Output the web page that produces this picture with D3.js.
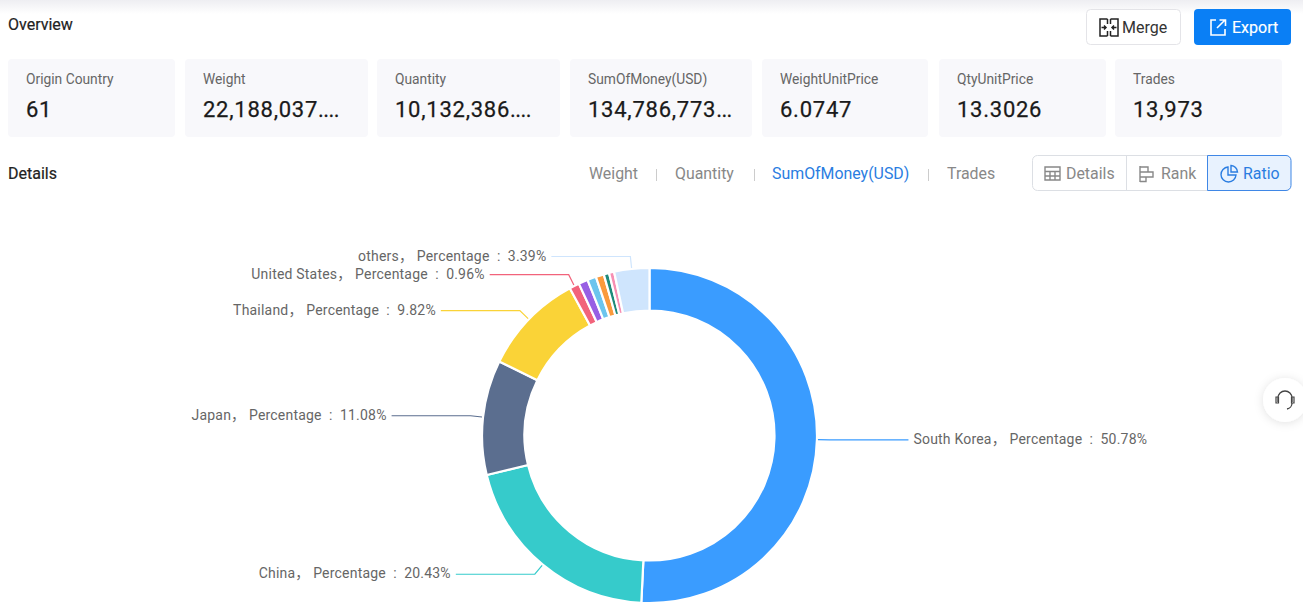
<!DOCTYPE html>
<html><head><meta charset="utf-8">
<script src="https://cdn.jsdelivr.net/npm/d3@7/dist/d3.min.js"></script>
<style>
html,body{margin:0;padding:0;background:#fff;overflow:hidden}
svg{display:block;font-family:Roboto,"Noto Sans CJK SC",sans-serif}
text{white-space:pre}
</style></head><body>
<svg id="c" width="1303" height="611"></svg>
<script>
const countries=["South Korea","China","Japan","Thailand","United States","c6","c7","c8","c9","c10","others"];
const shares=[50.78,20.43,11.08,9.82,0.96,0.9,0.85,0.78,0.52,0.49,3.39];
const colors=["#3a9cff","#36cbcb","#5b6e8f","#fad337","#f2637b","#975fe4","#6cc5ee","#fa9a3c","#1f8a7a","#f78fb3","#cfe5fd"];
const labelled=["South Korea","China","Japan","Thailand","United States","others"];
const cardLabels=["Origin Country","Weight","Quantity","SumOfMoney(USD)","WeightUnitPrice","QtyUnitPrice","Trades"];
const cardValues=["61","22,188,037....","10,132,386....","134,786,773...","6.0747","13.3026","13,973"];
const cardX=[8,185,377,570,762,939,1115];
const cardW=[167,183,183,182,166,167,167];
const metricTabs=["Weight","Quantity","SumOfMoney(USD)","Trades"];
const metricX=[589,675,772,947];
const viewTabs=["Details","Rank","Ratio"];

const svg=d3.select("#c");
const defs=svg.append("defs");
const g=defs.append("linearGradient").attr("id","top").attr("x1",0).attr("x2",0).attr("y1",0).attr("y2",1);
g.append("stop").attr("offset",0).attr("stop-color","#eeeef2");
g.append("stop").attr("offset",1).attr("stop-color","#fff");
const f=defs.append("filter").attr("id","sh").attr("x","-50%").attr("y","-50%").attr("width","200%").attr("height","200%");
f.append("feDropShadow").attr("dx",0).attr("dy",1).attr("stdDeviation",5).attr("flood-color","#000").attr("flood-opacity",.12);
svg.append("rect").attr("width",1303).attr("height",14).attr("fill","url(#top)");

const T=(x,y,s,size,col,w)=>svg.append("text").attr("x",x).attr("y",y).text(s)
  .attr("font-size",size).attr("fill",col).attr("font-weight",w||400);
T(8,30,"Overview",16,"#222",400).attr("stroke","#222").attr("stroke-width",.2);
T(8,179,"Details",16,"#222",400).attr("stroke","#222").attr("stroke-width",.2);

// buttons
svg.append("rect").attr("x",1086.5).attr("y",9.5).attr("width",94).attr("height",35).attr("rx",4).attr("fill","#fff").attr("stroke","#e4e4e8");
svg.append("path").attr("d","M1107.500 19h-7.500v17h7.500M1110.500 19h7.500v17h-7.500M1107.500 19v5M1107.500 31v5M1110.500 19v5M1110.500 31v5M1101.500 27.500h4M1116.500 27.500h-4M1104 25.500l2 2-2 2M1114 25.500l-2 2 2 2")
  .attr("fill","none").attr("stroke","#222").attr("stroke-width",1.5);
T(1122,33,"Merge",16,"#333");
svg.append("rect").attr("x",1194).attr("y",9).attr("width",97).attr("height",36).attr("rx",4).attr("fill","#0a7ff5");
svg.append("path").attr("d","M1216 20h-5v15h14v-6M1217 28l8-8M1219.500 20h6v6")
  .attr("fill","none").attr("stroke","#fff").attr("stroke-width",1.6);
T(1232,33,"Export",16,"#fff",400).attr("stroke","#fff").attr("stroke-width",.15);

// cards
cardLabels.forEach((l,i)=>{
  svg.append("rect").attr("x",cardX[i]).attr("y",59).attr("width",cardW[i]).attr("height",78).attr("rx",4).attr("fill","#f8f8fb");
  T(cardX[i]+18,84,l,13.8,"#666");
  const v=cardValues[i], m=v.match(/\.+$/), head=m?v.slice(0,-m[0].length):v;
  const t=T(cardX[i]+18,117,head,22,"#1a1a1a",400).attr("letter-spacing",.75).attr("stroke","#1a1a1a").attr("stroke-width",.25);
  if(m) t.append("tspan").text(m[0]).attr("letter-spacing",-.6);
});

// metric tabs
metricTabs.forEach((m,i)=>{
  const on=m==="SumOfMoney(USD)";
  T(metricX[i],178.5,m,15.9,on?"#2a7de1":"#888");
  if(i<3) svg.append("line").attr("x1",[656,754,928][i]+.5).attr("x2",[656,754,928][i]+.5).attr("y1",169).attr("y2",181).attr("stroke","#ccc");
});

// view switch
svg.append("rect").attr("x",1032.5).attr("y",155.5).attr("width",258).attr("height",35).attr("rx",5).attr("fill","#fff").attr("stroke","#dcdfe4");
svg.append("line").attr("x1",1126.5).attr("x2",1126.5).attr("y1",155.5).attr("y2",190.5).attr("stroke","#dcdfe4");
svg.append("path").attr("d","M1207.500 155.500H1286a5 5 0 0 1 5 5v25a5 5 0 0 1-5 5h-78.500z").attr("fill","#e8f2fe").attr("stroke","#3f87e6");
svg.append("path").attr("d","M1045 167h15v13h-15zM1045 171.500h15M1045 176h15M1050 171.500v8.500M1055 171.500v8.500").attr("fill","none").attr("stroke","#888").attr("stroke-width",1.4);
svg.append("path").attr("d","M1140 166v16M1140 167h8v5h-8M1140 172h13v5h-13M1140 177h6v4.500h-6").attr("fill","none").attr("stroke","#888").attr("stroke-width",1.4);
svg.append("path").attr("d","M1228 167a7.500 7.500 0 1 0 8 8h-8zM1231 165.500a7.500 7.500 0 0 1 6.500 6.500h-6.500z").attr("fill","none").attr("stroke","#2a7de1").attr("stroke-width",1.4);
[["Details",1066,"#888"],["Rank",1161,"#888"],["Ratio",1243,"#2a7de1"]].forEach((d,i)=>T(d[1],178.5,viewTabs[i],15.9,d[2]));

// donut
const cx=649.5,cy=435.5,R=167.5,r0=125,elbowR=180,run=79;
const pie=d3.pie().value(d=>d.v).sort(null);
const arc=d3.arc().innerRadius(r0).outerRadius(R);
const data=pie(countries.map((n,i)=>({n,v:shares[i],c:colors[i]})));
const G=svg.append("g").attr("transform",`translate(${cx},${cy})`);
G.selectAll("path.s").data(data).join("path").attr("class","s").attr("d",arc).attr("fill",d=>d.data.c).attr("stroke","#fff").attr("stroke-width",2.2);
const pt=(a,rad)=>[Math.sin(a)*rad,-Math.cos(a)*rad];
data.filter(d=>labelled.includes(d.data.n)).forEach(d=>{
  const a=(d.startAngle+d.endAngle)/2;
  const p0=pt(a,R+1), p1=pt(a,elbowR);
  const right=Math.sin(a)>0;
  const p2=[p1[0]+(right?run:-run),p1[1]];
  G.append("path").attr("d",d3.line()([p0,p1,p2])).attr("fill","none").attr("stroke",d.data.c).attr("stroke-width",1.2);
  G.append("text").attr("x",p2[0]+(right?5:-5)).attr("y",p1[1]+4).attr("text-anchor",right?"start":"end")
    .attr("font-size",14).attr("letter-spacing",.2).attr("fill","#666")
    .text(`${d.data.n}， Percentage  :  ${d.data.v.toFixed(2)}%`);
});

// support bubble
svg.append("circle").attr("cx",1285).attr("cy",400).attr("r",22).attr("fill","#fff").attr("filter","url(#sh)");
svg.append("path").attr("d","M1278 402v-4a7 7 0 0 1 14 0v4M1292 403a6 6 0 0 1-5 6").attr("fill","none").attr("stroke","#444").attr("stroke-width",1.3);
svg.append("path").attr("d","M1276 397h2.500v6h-2.500zM1291.500 397h2.500v6h-2.500z").attr("fill","none").attr("stroke","#444").attr("stroke-width",1.2);
</script></body></html>
